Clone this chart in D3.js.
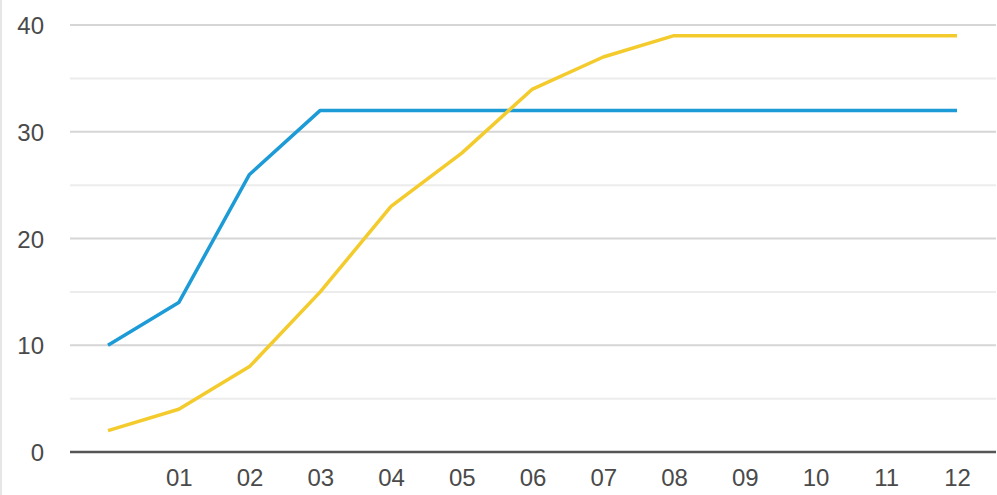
<!DOCTYPE html>
<html><head><meta charset="utf-8">
<script src="https://cdn.jsdelivr.net/npm/d3@7"></script>
<style>html,body{margin:0;padding:0;background:#fff;}svg{display:block;}</style>
</head><body>
<svg id="c" width="997" height="495"></svg>
<script>
const categories = ["", "01", "02", "03", "04", "05", "06", "07", "08", "09", "10", "11", "12"];
const seriesBlue = [10, 14, 26, 32, 32, 32, 32, 32, 32, 32, 32, 32, 32];
const seriesYellow = [2, 4, 8, 15, 23, 28, 34, 37, 39, 39, 39, 39, 39];
const majorTicks = [0, 10, 20, 30, 40];
const minorTicks = [5, 15, 25, 35];

const svg = d3.select("#c");
svg.append("line").attr("x1",1).attr("x2",1).attr("y1",0).attr("y2",495).attr("stroke","#e6e6e6").attr("stroke-width",2);

const x = d3.scalePoint().domain(d3.range(categories.length)).range([108, 957]);
const y = d3.scaleLinear().domain([0, 40]).range([452, 25]);
const gx0 = 70, gx1 = 996;
const font = "Liberation Sans, Arial, sans-serif";

svg.append("g").selectAll("line").data(minorTicks).join("line")
  .attr("x1", gx0).attr("x2", gx1).attr("y1", d => y(d)).attr("y2", d => y(d))
  .attr("stroke", "#ececec").attr("stroke-width", 2);
svg.append("g").selectAll("line").data(majorTicks.filter(d => d > 0)).join("line")
  .attr("x1", gx0).attr("x2", gx1).attr("y1", d => y(d)).attr("y2", d => y(d))
  .attr("stroke", "#d6d6d6").attr("stroke-width", 2);

// y axis labels
const yAxis = d3.axisLeft(y).tickValues(majorTicks).tickSize(0).tickPadding(0);
const gy = svg.append("g").attr("transform", "translate(44,1)").call(yAxis);
gy.select(".domain").remove();
gy.selectAll("text").attr("font-family", font).attr("font-size", 24).attr("fill", "#4a4a4a");

// x axis
const xAxis = d3.axisBottom(x).tickFormat(i => categories[i]).tickSize(0).tickPadding(0);
const gxa = svg.append("g").attr("transform", "translate(0,469)").call(xAxis);
gxa.select(".domain").remove();
gxa.selectAll("text").attr("font-family", font).attr("font-size", 24).attr("fill", "#4a4a4a");

svg.append("line").attr("x1", gx0).attr("x2", gx1).attr("y1", y(0)).attr("y2", y(0))
  .attr("stroke", "#555").attr("stroke-width", 2.5);

const line = d3.line().x((d, i) => x(i)).y(d => y(d));
svg.append("path").datum(seriesBlue).attr("d", line).attr("fill", "none")
  .attr("stroke", "#1d9bd7").attr("stroke-width", 3.5).attr("stroke-linejoin", "round");
svg.append("path").datum(seriesYellow).attr("d", line).attr("fill", "none")
  .attr("stroke", "#f4cb2c").attr("stroke-width", 3.5).attr("stroke-linejoin", "round");
</script>
</body></html>
